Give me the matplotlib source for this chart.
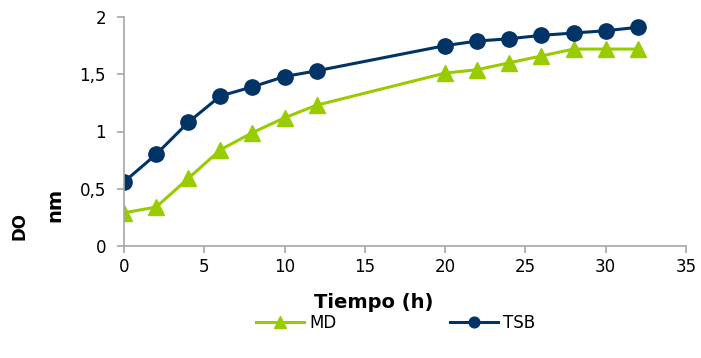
import numpy as np
import matplotlib.pyplot as plt
from matplotlib.ticker import FuncFormatter, MultipleLocator

# data
tiempo = [0, 2, 4, 6, 8, 10, 12, 20, 22, 24, 26, 28, 30, 32]
md = [0.29, 0.34, 0.59, 0.84, 0.99, 1.12, 1.23, 1.51, 1.54, 1.60, 1.66, 1.72, 1.72, 1.72]
tsb = [0.56, 0.80, 1.08, 1.31, 1.39, 1.48, 1.53, 1.75, 1.79, 1.81, 1.84, 1.86, 1.88, 1.91]
series_names = ['MD', 'TSB']

green = '#99cc00'
navy = '#003366'
grey = '#a6a6a6'

fig = plt.figure(figsize=(7.01, 3.58), dpi=100)
ax = fig.add_axes([124/701, 1-246/358, (686-124)/701, (246-17)/358])

ax.plot(tiempo, md, color=green, lw=2.2, marker='^', ms=12, label=series_names[0])
ax.plot(tiempo, tsb, color=navy, lw=2.2, marker='o', ms=11, label=series_names[1])

ax.set_xlim(0, 35)
ax.set_ylim(0, 2)
ax.xaxis.set_major_locator(MultipleLocator(5))
ax.yaxis.set_major_locator(MultipleLocator(0.5))
ax.yaxis.set_major_formatter(FuncFormatter(lambda v, p: ('%g' % v).replace('.', ',')))
for s in ['top', 'right']:
    ax.spines[s].set_visible(False)
for s in ['left', 'bottom']:
    ax.spines[s].set_color(grey)
    ax.spines[s].set_linewidth(1.2)
ax.tick_params(axis='both', colors=grey, labelcolor='black', labelsize=12,
               direction='out', length=5, width=1.2)
ax.tick_params(axis='y', length=5, pad=8)
for lab in ax.get_xticklabels() + ax.get_yticklabels():
    lab.set_clip_on(False)

fig.text(374/701, 1-302/358, 'Tiempo (h)', ha='center', va='center',
         fontsize=14, fontweight='bold')

# garbled y label blobs in the original
fig.text(20/701, 1-226/358, 'DO', rotation=90, ha='center', va='center',
         fontsize=12, fontweight='black')
fig.text(55/701, 1-205/358, 'nm', rotation=90, ha='center', va='center',
         fontsize=14, fontweight='black')

fig.legend(loc='center left', bbox_to_anchor=(256/701, 1-323/358), ncol=2, frameon=False,
           fontsize=12, handlelength=2.9, columnspacing=6.8, handletextpad=0.3,
           markerscale=0.7, borderpad=0, borderaxespad=0)

fig.savefig('out.png', dpi=100)
